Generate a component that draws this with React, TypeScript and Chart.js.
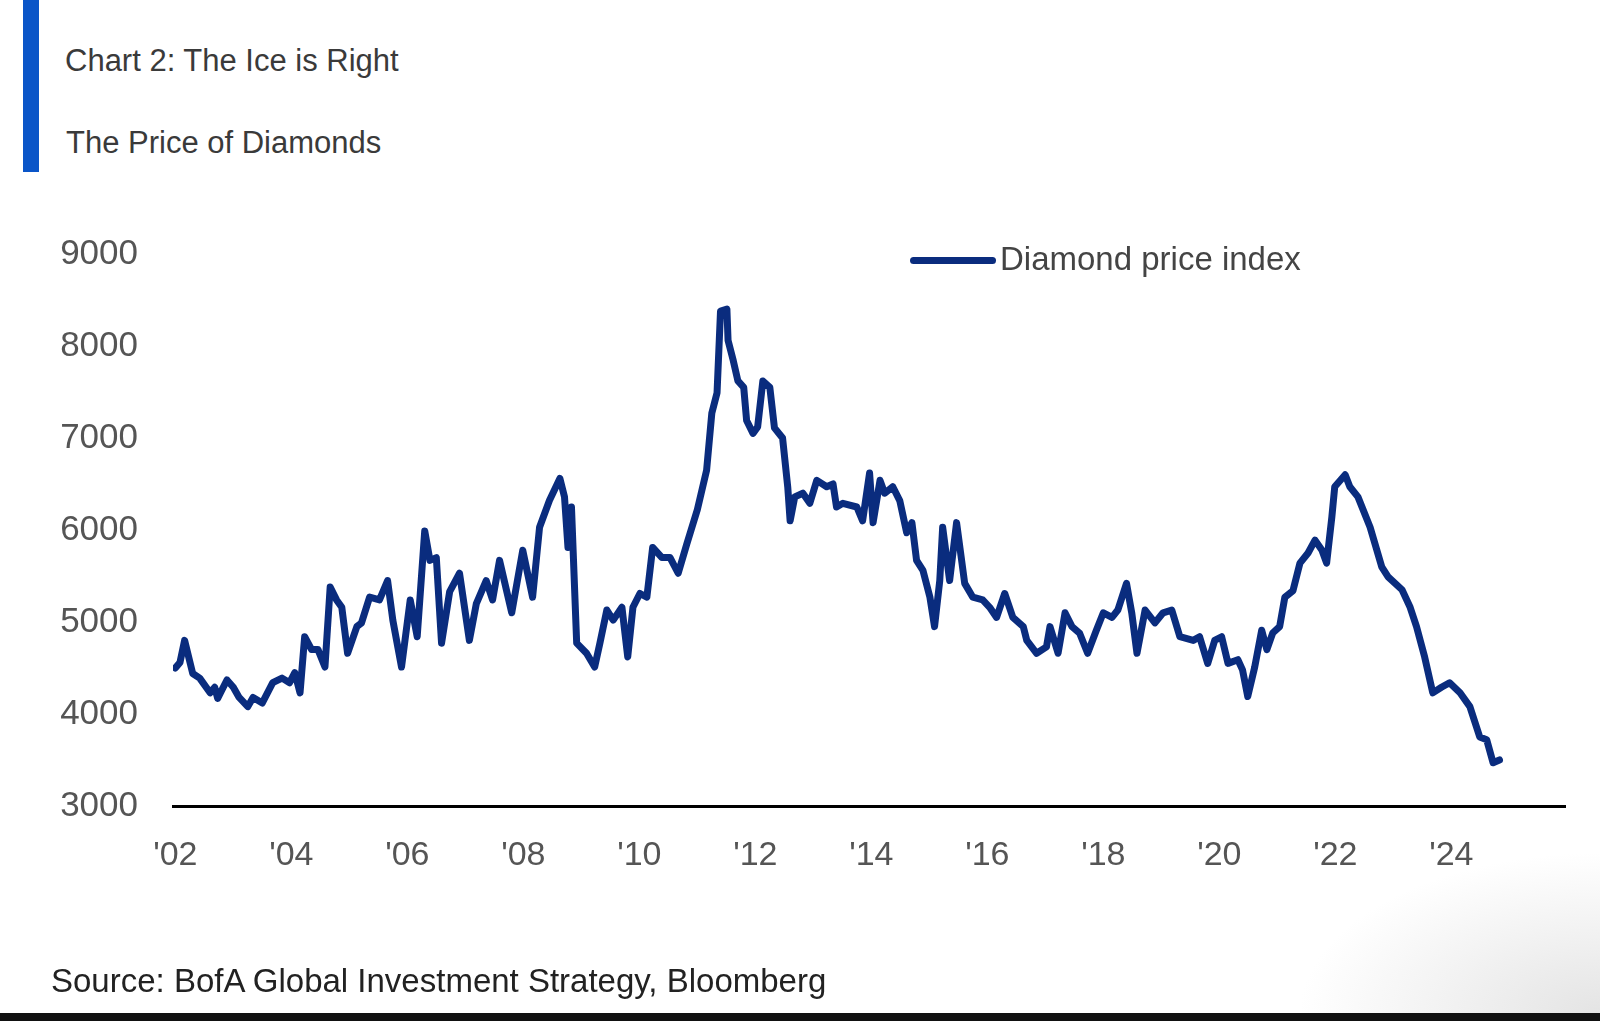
import React, { useEffect, useRef } from "react";
import { Chart, registerables } from "chart.js";

Chart.register(...registerables);

const TITLE = "Chart 2: The Ice is Right";
const SUBTITLE = "The Price of Diamonds";
const SOURCE = "Source: BofA Global Investment Strategy, Bloomberg";
const SERIES_NAME = "Diamond price index";

const YEARS_TICKS = [2002, 2004, 2006, 2008, 2010, 2012, 2014, 2016, 2018, 2020, 2022, 2024];
const Y_TICKS = [3000, 4000, 5000, 6000, 7000, 8000, 9000];

// decimal year of each observation
const dates = [
  2002.0, 2002.08, 2002.16, 2002.3, 2002.42, 2002.6, 2002.68, 2002.73, 2002.89, 2003.0,
  2003.1, 2003.25, 2003.34, 2003.5, 2003.68, 2003.84, 2003.97, 2004.06, 2004.15, 2004.23,
  2004.35, 2004.46, 2004.58, 2004.67, 2004.78, 2004.87, 2004.97, 2005.13, 2005.21, 2005.35,
  2005.52, 2005.66, 2005.75, 2005.9, 2006.05, 2006.17, 2006.3, 2006.39, 2006.5, 2006.59,
  2006.73, 2006.9, 2007.07, 2007.19, 2007.36, 2007.47, 2007.59, 2007.8, 2007.99, 2008.16,
  2008.28, 2008.45, 2008.63, 2008.71, 2008.77, 2008.83, 2008.92, 2009.09, 2009.23, 2009.32,
  2009.44, 2009.55, 2009.7, 2009.8, 2009.89, 2010.01, 2010.13, 2010.23, 2010.39, 2010.53,
  2010.67, 2010.82, 2011.0, 2011.16, 2011.25, 2011.34, 2011.4, 2011.51, 2011.53, 2011.62,
  2011.7, 2011.8, 2011.85, 2011.96, 2012.04, 2012.13, 2012.25, 2012.33, 2012.47, 2012.56,
  2012.6, 2012.68, 2012.82, 2012.94, 2013.06, 2013.23, 2013.34, 2013.4, 2013.51, 2013.75,
  2013.85, 2013.97, 2014.03, 2014.15, 2014.23, 2014.37, 2014.49, 2014.61, 2014.7, 2014.78,
  2014.89, 2015.01, 2015.09, 2015.18, 2015.23, 2015.35, 2015.47, 2015.61, 2015.75, 2015.92,
  2016.04, 2016.16, 2016.3, 2016.44, 2016.62, 2016.68, 2016.85, 2017.02, 2017.08, 2017.22,
  2017.34, 2017.46, 2017.59, 2017.73, 2017.88, 2018.0, 2018.15, 2018.25, 2018.4, 2018.49,
  2018.58, 2018.72, 2018.89, 2019.03, 2019.18, 2019.32, 2019.55, 2019.66, 2019.8, 2019.92,
  2020.04, 2020.15, 2020.32, 2020.4, 2020.49, 2020.61, 2020.73, 2020.82, 2020.92, 2021.04,
  2021.13, 2021.27, 2021.39, 2021.53, 2021.65, 2021.77, 2021.85, 2021.94, 2021.99, 2022.17,
  2022.25, 2022.39, 2022.6, 2022.8, 2022.91, 2023.15, 2023.29, 2023.4, 2023.54, 2023.68,
  2023.83, 2023.97, 2024.15, 2024.32, 2024.49, 2024.61, 2024.72, 2024.83,
];

const diamondIndex = [
  4500, 4560, 4800, 4440, 4390, 4230, 4290, 4170, 4370, 4290,
  4180, 4080, 4180, 4120, 4340, 4390, 4340, 4450, 4230, 4840,
  4700, 4700, 4510, 5380, 5240, 5160, 4660, 4950, 4990, 5270,
  5240, 5450, 5020, 4510, 5240, 4840, 5990, 5670, 5700, 4770,
  5330, 5530, 4800, 5200, 5450, 5240, 5670, 5100, 5780, 5270,
  6030, 6320, 6560, 6360, 5810, 6250, 4770, 4660, 4510, 4770,
  5130, 5020, 5160, 4620, 5160, 5310, 5270, 5810, 5700, 5700,
  5530, 5850, 6220, 6650, 7270, 7490, 8380, 8400, 8060, 7840,
  7620, 7550, 7190, 7050, 7120, 7620, 7550, 7110, 7000, 6460,
  6100, 6360, 6400, 6290, 6540, 6470, 6500, 6250, 6290, 6250,
  6100, 6620, 6080, 6540, 6400, 6470, 6320, 5970, 6080, 5670,
  5560, 5270, 4950, 5450, 6030, 5450, 6080, 5420, 5270, 5240,
  5160, 5050, 5310, 5050, 4950, 4800, 4660, 4730, 4950, 4660,
  5100, 4950, 4880, 4660, 4910, 5100, 5050, 5130, 5420, 5100,
  4660, 5130, 4990, 5100, 5130, 4840, 4800, 4840, 4550, 4800,
  4840, 4550, 4590, 4480, 4190, 4510, 4910, 4700, 4880, 4950,
  5270, 5340, 5640, 5750, 5890, 5780, 5640, 6140, 6470, 6600,
  6470, 6360, 6030, 5600, 5490, 5350, 5160, 4950, 4620, 4230,
  4290, 4340, 4230, 4080, 3750, 3720, 3470, 3500,
];

const LINE_COLOR = "#0a2c7e";

export default function App() {
  const canvasRef = useRef<HTMLCanvasElement | null>(null);

  useEffect(() => {
    const canvas = canvasRef.current;
    if (!canvas) return;
    const points = dates.map((d, i) => ({ x: d, y: diamondIndex[i] }));
    const chart = new Chart(canvas, {
      type: "line",
      data: {
        datasets: [
          {
            label: SERIES_NAME,
            data: points,
            borderColor: LINE_COLOR,
            backgroundColor: LINE_COLOR,
            borderWidth: 7,
            pointRadius: 0,
            tension: 0,
            borderJoinStyle: "round",
            borderCapStyle: "round",
          },
        ],
      },
      options: {
        responsive: false,
        animation: false,
        events: [],
        layout: { padding: { left: 0, right: 35, top: 254, bottom: 155 } },
        plugins: {
          legend: { display: false },
          tooltip: { enabled: false },
          title: { display: false },
        },
        scales: {
          x: {
            type: "linear",
            min: 2001.96,
            max: 2025.96,
            grid: { display: false, drawTicks: false },
            border: { display: true, color: "#000000", width: 3 },
            afterBuildTicks: (scale: any) => {
              scale.ticks = YEARS_TICKS.map((v) => ({ value: v }));
            },
            afterFit: (scale: any) => {
              scale.height = 60;
            },
            ticks: {
              autoSkip: false,
              maxRotation: 0,
              padding: 29,
              color: "#555555",
              font: { family: "'Liberation Sans', Arial, sans-serif", size: 34 },
              callback: (v: any) => "'" + String(Number(v) % 100).padStart(2, "0"),
            },
          },
          y: {
            type: "linear",
            min: 3000,
            max: 9000,
            grid: { display: false, drawTicks: false },
            border: { display: false },
            afterBuildTicks: (scale: any) => {
              scale.ticks = Y_TICKS.map((v) => ({ value: v }));
            },
            afterFit: (scale: any) => {
              scale.width = 173;
            },
            ticks: {
              padding: 35,
              color: "#555555",
              font: { family: "'Liberation Sans', Arial, sans-serif", size: 35 },
              callback: (v: any) => String(v),
            },
          },
        },
      },
    });
    return () => chart.destroy();
  }, []);

  return (
    <div
      style={{
        position: "absolute",
        left: 0,
        top: 0,
        width: 1600,
        height: 1021,
        background: "radial-gradient(ellipse 300px 160px at 1600px 1013px, #e4e4e4 0%, #ffffff 100%)",
        overflow: "hidden",
        fontFamily: "'Liberation Sans', Arial, sans-serif",
      }}
    >
      <div style={{ position: "absolute", left: 23, top: 0, width: 16, height: 172, background: "#0a55c8" }} />
      <div style={{ position: "absolute", left: 65, top: 45, fontSize: 31, lineHeight: "31px", color: "#3a3a3a", whiteSpace: "nowrap" }}>
        {TITLE}
      </div>
      <div style={{ position: "absolute", left: 66, top: 127, fontSize: 31, lineHeight: "31px", color: "#3a3a3a", whiteSpace: "nowrap" }}>
        {SUBTITLE}
      </div>
      <canvas ref={canvasRef} width={1600} height={1021} style={{ position: "absolute", left: 0, top: 0, width: 1600, height: 1021 }} />
      <div style={{ position: "absolute", left: 910, top: 257, width: 86, height: 7, borderRadius: 4, background: LINE_COLOR }} />
      <div style={{ position: "absolute", left: 1000, top: 242, fontSize: 33, lineHeight: "33px", color: "#444444", whiteSpace: "nowrap" }}>
        {SERIES_NAME}
      </div>
      <div style={{ position: "absolute", left: 51, top: 964, fontSize: 33, lineHeight: "33px", color: "#222222", whiteSpace: "nowrap" }}>
        {SOURCE}
      </div>
      <div style={{ position: "absolute", left: 0, top: 1013, width: 1600, height: 8, background: "#111111" }} />
    </div>
  );
}
